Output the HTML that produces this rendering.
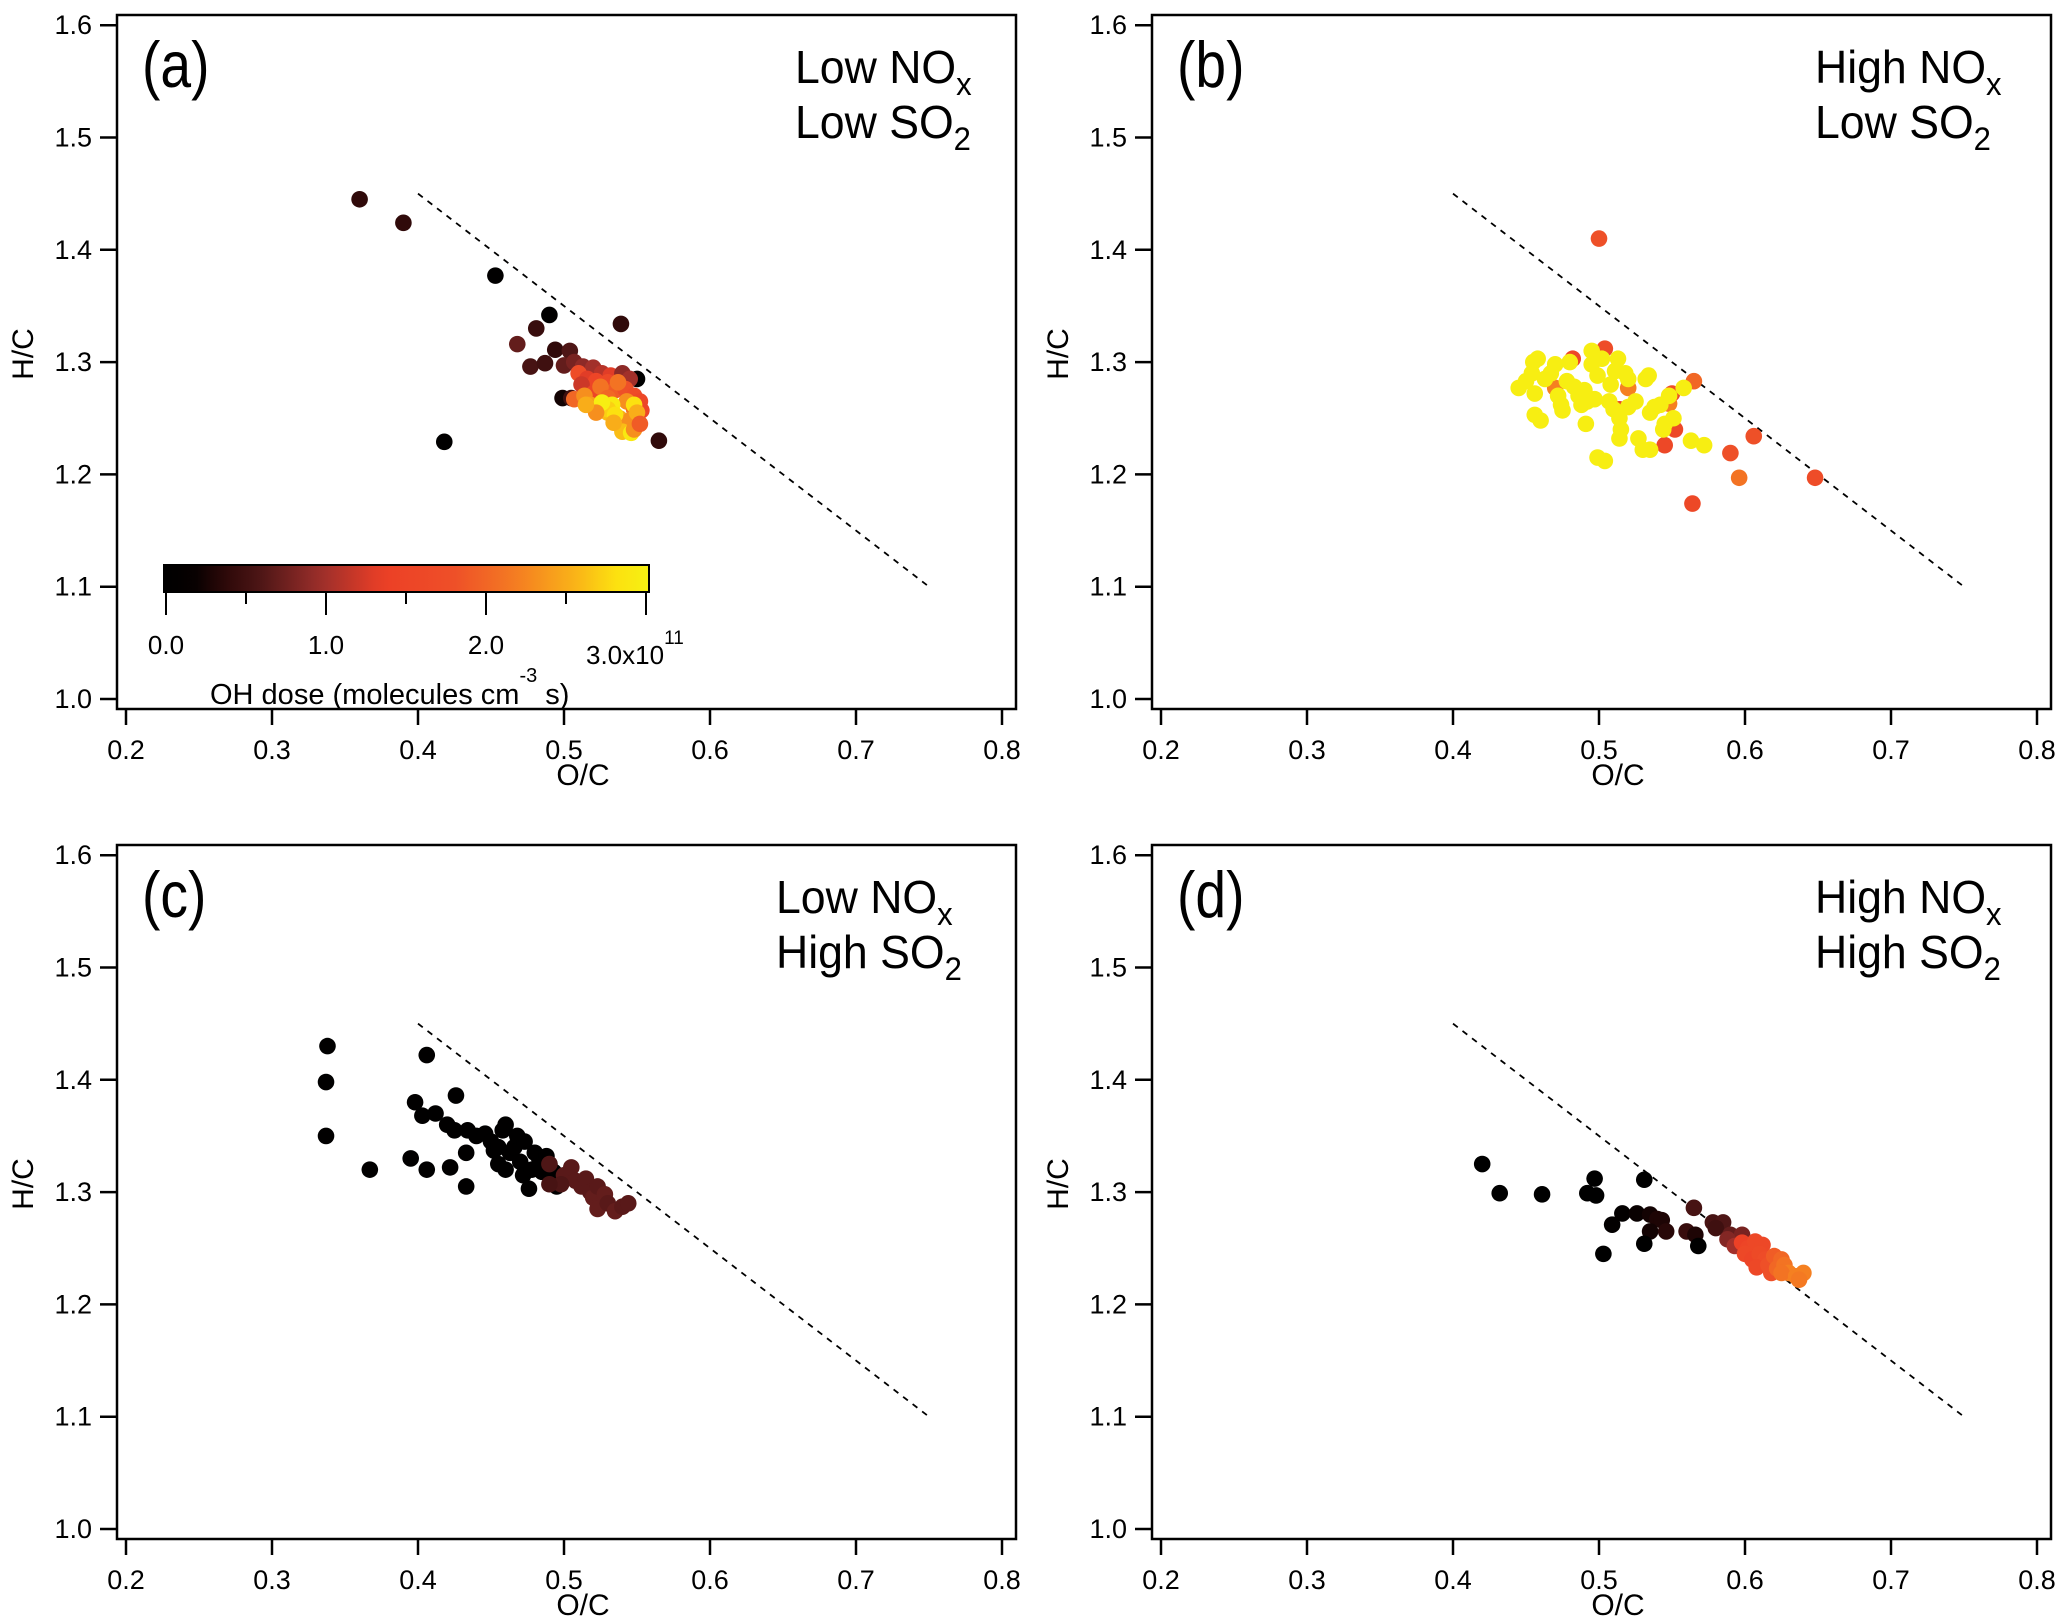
<!DOCTYPE html>
<html><head><meta charset="utf-8"><style>
html,body{margin:0;padding:0;background:#fff;}
svg{display:block;font-family:"Liberation Sans",Arial,sans-serif;}
</style></head><body>
<svg id="fig" width="2067" height="1624" viewBox="0 0 2067 1624"></svg>
<script>
// ---- data (O/C, H/C, OH dose in 1e11) ----
const panelLabels = ["(a)","(b)","(c)","(d)"];
const condNOx = ["Low","High","Low","High"];
const condSO2 = ["Low","Low","High","High"];
const xTicks = [0.2,0.3,0.4,0.5,0.6,0.7,0.8];
const yTicks = [1.0,1.1,1.2,1.3,1.4,1.5,1.6];
const cbTicks = [0,1,2,3];
const cbTickLabels = ["0.0","1.0","2.0","3.0"];
const refLine = [[0.4,1.45],[0.75,1.1]];

const aOC = [0.36,0.39,0.453,0.49,0.481,0.468,0.418,0.539,0.565,0.55,0.477,0.487,0.494,0.504,0.499,0.505,
0.50,0.507,0.513,0.52,0.526,0.532,0.54,0.545,0.51,0.516,0.522,0.53,0.535,0.542,0.548,0.552,0.512,0.52,0.525,0.53,0.537,0.543,0.548,0.553,0.507,0.514,0.518,0.525,0.53,0.533,0.538,0.545,0.548,0.55,0.53,0.526,0.535,0.54,0.546,0.548,0.552,0.534,0.522,0.515];
const aHC = [1.445,1.424,1.377,1.342,1.33,1.316,1.229,1.334,1.23,1.285,1.296,1.299,1.311,1.31,1.268,1.268,
1.297,1.30,1.296,1.295,1.29,1.288,1.29,1.285,1.29,1.285,1.283,1.282,1.275,1.276,1.27,1.265,1.28,1.272,1.278,1.268,1.282,1.265,1.258,1.257,1.267,1.27,1.262,1.26,1.255,1.262,1.25,1.248,1.262,1.255,1.258,1.264,1.253,1.238,1.237,1.24,1.245,1.246,1.255,1.262];
const aDose = [0.4,0.4,0.05,0.05,0.45,0.7,0.05,0.4,0.4,0.0,0.55,0.5,0.4,0.6,0.25,0.5,
0.7,0.8,0.9,1.0,1.1,1.3,0.9,1.0,1.7,1.3,1.5,1.6,1.9,1.8,1.7,1.6,1.2,1.5,2.1,2.0,2.1,2.3,2.1,1.5,2.0,2.3,2.4,2.3,2.6,2.9,2.5,2.3,2.8,2.5,2.7,2.95,2.8,2.6,2.9,2.3,1.9,2.5,2.3,2.5];

const bOC = [0.50,0.504,0.482,0.565,0.606,0.59,0.596,0.648,0.564,0.545,0.552,0.55,0.548,0.52,0.47,0.514,
0.445,0.45,0.454,0.455,0.458,0.456,0.456,0.46,0.463,0.467,0.47,0.472,0.474,0.475,0.478,0.48,0.483,0.486,0.488,0.49,0.491,0.492,0.495,0.495,0.497,0.499,0.499,0.502,0.504,0.507,0.508,0.511,0.513,0.514,0.514,0.515,0.518,0.52,0.525,0.527,0.53,0.532,0.534,0.535,0.535,0.538,0.542,0.544,0.545,0.548,0.551,0.558,0.563,0.572,0.51,0.52];
const bHC = [1.41,1.312,1.303,1.283,1.234,1.219,1.197,1.197,1.174,1.226,1.24,1.272,1.263,1.277,1.277,1.258,
1.277,1.283,1.29,1.3,1.303,1.272,1.253,1.248,1.285,1.29,1.298,1.27,1.262,1.257,1.283,1.3,1.278,1.27,1.262,1.275,1.245,1.265,1.31,1.298,1.267,1.288,1.215,1.303,1.212,1.265,1.28,1.292,1.303,1.25,1.232,1.24,1.29,1.285,1.265,1.232,1.222,1.285,1.288,1.222,1.255,1.26,1.262,1.24,1.245,1.27,1.25,1.277,1.23,1.226,1.258,1.26];
const bDose = [1.8,1.7,1.6,2.0,1.8,1.8,2.1,1.7,1.6,1.6,1.6,1.7,2.2,2.2,2.2,1.6,
2.95,2.95,2.95,2.95,2.95,2.95,2.95,2.95,2.95,2.95,2.95,2.95,2.95,2.95,2.95,2.95,2.95,2.95,2.95,2.95,2.95,2.95,2.95,2.95,2.95,2.95,2.95,2.95,2.95,2.95,2.95,2.95,2.95,2.95,2.95,2.95,2.95,2.95,2.95,2.95,2.95,2.95,2.95,2.95,2.95,2.95,2.95,2.95,2.95,2.95,2.95,2.95,2.95,2.95,2.95,2.95];

const cOC = [0.338,0.337,0.337,0.367,0.406,0.398,0.403,0.412,0.395,0.406,0.426,0.42,0.425,0.422,0.433,0.433,0.434,0.44,0.446,0.45,0.452,0.455,0.458,0.46,0.455,0.46,0.463,0.466,0.468,0.47,0.473,0.472,0.476,0.478,0.48,0.483,0.485,0.488,0.49,0.493,0.495,
0.49,0.5,0.505,0.508,0.512,0.515,0.518,0.52,0.523,0.525,0.528,0.523,0.53,0.535,0.54,0.544,0.498,0.49];
const cHC = [1.43,1.398,1.35,1.32,1.422,1.38,1.368,1.37,1.33,1.32,1.386,1.36,1.355,1.322,1.335,1.305,1.355,1.35,1.352,1.345,1.337,1.325,1.355,1.36,1.34,1.32,1.335,1.34,1.35,1.327,1.345,1.315,1.303,1.32,1.335,1.33,1.318,1.332,1.325,1.318,1.305,
1.325,1.315,1.322,1.31,1.305,1.312,1.3,1.295,1.305,1.29,1.298,1.285,1.29,1.283,1.287,1.29,1.307,1.307];
const cDose = [0.05,0.05,0.05,0.05,0.05,0.05,0.05,0.05,0.05,0.05,0.05,0.05,0.05,0.05,0.05,0.05,0.05,0.05,0.05,0.05,0.05,0.05,0.05,0.05,0.05,0.05,0.05,0.05,0.05,0.05,0.05,0.05,0.05,0.05,0.05,0.05,0.05,0.05,0.05,0.05,0.05,
0.6,0.65,0.65,0.65,0.65,0.65,0.65,0.7,0.65,0.7,0.7,0.7,0.65,0.7,0.65,0.65,0.6,0.55];

const dOC = [0.42,0.432,0.461,0.492,0.498,0.497,0.531,0.509,0.516,0.503,0.526,0.535,0.54,0.543,0.535,0.531,0.546,0.56,0.566,0.568,0.565,
0.578,0.585,0.58,0.59,0.598,0.588,0.593,0.598,0.602,0.607,0.612,0.6,0.605,0.61,0.614,0.608,0.616,0.62,0.625,0.618,0.622,0.627,0.63,0.625,0.635,0.64,0.637];
const dHC = [1.325,1.299,1.298,1.299,1.297,1.312,1.311,1.271,1.281,1.245,1.281,1.28,1.276,1.275,1.265,1.254,1.265,1.265,1.262,1.252,1.286,
1.273,1.273,1.268,1.262,1.262,1.258,1.252,1.255,1.25,1.256,1.253,1.245,1.24,1.245,1.24,1.233,1.235,1.243,1.24,1.228,1.232,1.235,1.228,1.228,1.225,1.228,1.222];
const dDose = [0,0,0,0,0,0,0,0.1,0.1,0,0.2,0.25,0.3,0.3,0.25,0,0.35,0.45,0.3,0,0.55,
0.55,0.6,0.5,0.7,0.8,0.85,1.0,1.4,1.5,1.6,1.6,1.6,1.5,1.65,1.7,1.6,1.8,1.9,2.0,1.8,2.0,2.1,2.2,2.1,2.2,2.2,2.15];

// ---- rendering ----
const NS = "http://www.w3.org/2000/svg";
const svg = document.getElementById("fig");
function mk(tag, attrs, parent){ const e=document.createElementNS(NS,tag); for(const k in attrs) e.setAttribute(k,attrs[k]); (parent||svg).appendChild(e); return e; }

const cmStops = [[0,"#000000"],[0.06,"#050000"],[0.12,"#2a0808"],[0.2,"#4e1616"],[0.32,"#9a2e2a"],[0.45,"#ec3f26"],[0.6,"#ee5028"],[0.72,"#f47a22"],[0.85,"#fab418"],[0.93,"#fce010"],[1,"#f6f212"]];
function hex(h){return [parseInt(h.substr(1,2),16),parseInt(h.substr(3,2),16),parseInt(h.substr(5,2),16)];}
function cmap(d){
  let f=Math.max(0,Math.min(1,d/3));
  for(let i=1;i<cmStops.length;i++){
    if(f<=cmStops[i][0]){
      const a=cmStops[i-1],b=cmStops[i]; const t=(f-a[0])/(b[0]-a[0]);
      const ca=hex(a[1]),cb=hex(b[1]);
      return "rgb("+ca.map((v,j)=>Math.round(v+(cb[j]-v)*t)).join(",")+")";
    }
  }
  return cmStops[cmStops.length-1][1];
}

const panels = [
  {ox:0,oy:0,oc:aOC,hc:aHC,dose:aDose,tx:795},
  {ox:1035,oy:0,oc:bOC,hc:bHC,dose:bDose,tx:780},
  {ox:0,oy:830,oc:cOC,hc:cHC,dose:cDose,tx:776},
  {ox:1035,oy:830,oc:dOC,hc:dHC,dose:dDose,tx:780}
];

panels.forEach((p,i)=>{
  const g = mk("g",{transform:`translate(${p.ox},${p.oy})`});
  
  
  const X = v => 126 + (v-0.2)*1460;
  const Y = v => 699 - (v-1.0)*1123;
  const frame = mk("rect",{x:117,y:15,width:899,height:694,fill:"none",stroke:"#000","stroke-width":2.5},g);
  
  
  xTicks.forEach(t=>{
    const l = mk("line",{x1:X(t),x2:X(t),y1:709,y2:725,stroke:"#000","stroke-width":2.5},g);
    
    
    const tx = mk("text",{x:X(t),y:759,"font-size":27,"text-anchor":"middle"},g);
    tx.textContent=t.toFixed(1);
    
    
  });
  yTicks.forEach(t=>{
    const l = mk("line",{x1:100,x2:117,y1:Y(t),y2:Y(t),stroke:"#000","stroke-width":2.5},g);
    
    
    const tx = mk("text",{x:92,y:Y(t)+9,"font-size":27,"text-anchor":"end"},g);
    tx.textContent=t.toFixed(1);
    
    
  });
  const xl = mk("text",{x:583,y:785,"font-size":30,"text-anchor":"middle"},g);
  xl.textContent="O/C";
  
  
  const yl = mk("text",{x:0,y:0,"font-size":30,"text-anchor":"middle",transform:"translate(33,354) rotate(-90)"},g);
  yl.textContent="H/C";
  
  
  const rl = mk("line",{x1:X(refLine[0][0]),y1:Y(refLine[0][1]),x2:X(refLine[1][0]),y2:Y(refLine[1][1]),stroke:"#000","stroke-width":1.8,"stroke-dasharray":"6,6"},g);
  
  
  for(let k=0;k<p.oc.length;k++){
    const c = mk("circle",{cx:X(p.oc[k]),cy:Y(p.hc[k]),r:8.3,fill:cmap(p.dose[k])},g);
    
    
  }
  const pl = mk("text",{x:142,y:87,"font-size":60,transform:"translate(142,87) scale(0.92,1.08) translate(-142,-87)"},g);
  pl.textContent=panelLabels[i];
  
  
  const c1 = mk("text",{x:p.tx,y:83,"font-size":46,transform:`translate(${p.tx},83) scale(0.97,1) translate(${-p.tx},-83)`},g);
  c1.innerHTML = condNOx[i]+" NO<tspan font-size='32' dy='12'>x</tspan>";
  
  
  const c2 = mk("text",{x:p.tx,y:138,"font-size":46,transform:`translate(${p.tx},138) scale(0.97,1) translate(${-p.tx},-138)`},g);
  c2.innerHTML = condSO2[i]+" SO<tspan font-size='32' dy='12'>2</tspan>";
  
  
});

// colorbar in panel a
const defs = mk("defs",{});
const grad = mk("linearGradient",{id:"cmg",x1:"0",x2:"1",y1:"0",y2:"0"},defs);
for(let s=0;s<=30;s++){ mk("stop",{offset:(s/30),"stop-color":cmap(s/10)},grad); }
const cbX = v => 166 + v*160;
const cb = mk("rect",{x:164,y:565,width:485,height:27,fill:"url(#cmg)",stroke:"#000","stroke-width":2});


[0.5,1.5,2.5].forEach(t=>{
  const l=mk("line",{x1:cbX(t),x2:cbX(t),y1:592,y2:604,stroke:"#000","stroke-width":2});
  
  
});
cbTicks.forEach((t,k)=>{
  const l=mk("line",{x1:cbX(t),x2:cbX(t),y1:592,y2:615,stroke:"#000","stroke-width":2});
  
  
  if(k<3){
    const tx=mk("text",{x:cbX(t),y:654,"font-size":26,"text-anchor":"middle"});
    tx.textContent=cbTickLabels[k];
    
    
  }
});
const t3 = mk("text",{x:586,y:664,"font-size":26});
t3.innerHTML="3.0x10<tspan font-size='19' dy='-20'>11</tspan>";


const cbt = mk("text",{x:210,y:704,"font-size":29});
cbt.innerHTML="OH dose (molecules cm<tspan font-size='20' dy='-22'>-3</tspan><tspan dy='22'> s)</tspan>";


</script>
</body></html>
